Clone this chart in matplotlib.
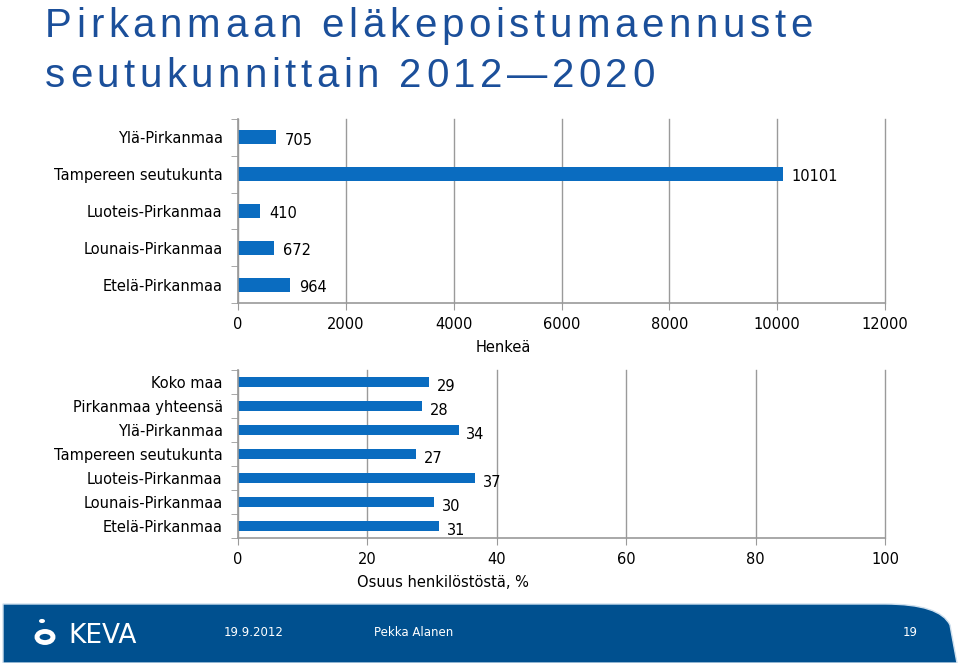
import matplotlib
matplotlib.use("Agg")
import matplotlib.pyplot as plt
from matplotlib.patches import PathPatch, Circle
from matplotlib.path import Path

plt.rcParams['font.family'] = ['DejaVu Sans']

# data
regions = ['Ylä-Pirkanmaa', 'Tampereen seutukunta', 'Luoteis-Pirkanmaa',
           'Lounais-Pirkanmaa', 'Etelä-Pirkanmaa']
persons = [705, 10101, 410, 672, 964]

regions2 = ['Koko maa', 'Pirkanmaa yhteensä', 'Ylä-Pirkanmaa', 'Tampereen seutukunta',
            'Luoteis-Pirkanmaa', 'Lounais-Pirkanmaa', 'Etelä-Pirkanmaa']
share = [29.5, 28.4, 34.1, 27.5, 36.7, 30.3, 31.1]
share_lbl = ['29', '28', '34', '27', '37', '30', '31']

title_lines = ['Pirkanmaan eläkepoistumaennuste', 'seutukunnittain 2012\u20142020']

BAR = '#0A6CC0'
GRID = '#9a9a9a'
TITLE = '#1B4F9A'
FOOT = '#00508F'

fig = plt.figure(figsize=(9.6, 6.63), dpi=100)
W, H = 960, 663


def style(ax, n):
    ax.set_ylim(n - 0.5, -0.5)
    for s in ['top', 'right']:
        ax.spines[s].set_visible(False)
    for s in ['left', 'bottom']:
        ax.spines[s].set_color(GRID)
        ax.spines[s].set_linewidth(1.2)
    ax.xaxis.grid(True, color=GRID, linewidth=1)
    ax.set_axisbelow(True)
    ax.set_yticks([i + 0.5 for i in range(-1, n)], minor=True)
    ax.tick_params(axis='y', which='major', length=0, labelsize=10.5, pad=11)
    ax.tick_params(axis='y', which='minor', length=5, color=GRID)
    ax.tick_params(axis='x', length=5, color=GRID, labelsize=10.5, pad=5)
    for gl in ax.get_xgridlines():
        gl.set_clip_on(False)


def spaced_text(x_px, y_px, s, spacing, **kw):
    # draws text one character at a time with extra letter spacing
    r = fig.canvas.get_renderer()
    x = x_px
    for ch in s:
        if ch == ' ':
            t = fig.text(0, 0, 'a a', **kw)
            t2 = fig.text(0, 0, 'aa', **kw)
            w = t.get_window_extent(r).width - t2.get_window_extent(r).width
            t.remove()
            t2.remove()
        else:
            t = fig.text(x / W, 1 - y_px / H, ch, va='baseline', ha='left', **kw)
            w = t.get_window_extent(r).width
        x += w + spacing


# top chart
ax1 = fig.add_axes([238 / W, 1 - 303 / H, 647 / W, 184 / H])
y = range(len(regions))
ax1.barh(y, persons, height=0.38, color=BAR)
ax1.set_yticks(list(y))
ax1.set_yticklabels(regions)
ax1.set_xlim(0, 12000)
ax1.set_xticks(range(0, 12001, 2000))
style(ax1, len(regions))
for i, v in enumerate(persons):
    ax1.annotate(str(v), (v, i), xytext=(6.5, -2), textcoords='offset points',
                 va='center', ha='left', fontsize=10.5)
ax1.set_xlabel('Henkeä', fontsize=10.5)
ax1.xaxis.set_label_coords((503 - 238) / 647, -0.2)

# bottom chart
ax2 = fig.add_axes([238 / W, 1 - 538 / H, 647 / W, 168 / H])
y2 = range(len(regions2))
ax2.barh(y2, share, height=0.42, color=BAR)
ax2.set_yticks(list(y2))
ax2.set_yticklabels(regions2)
ax2.set_xlim(0, 100)
ax2.set_xticks(range(0, 101, 20))
style(ax2, len(regions2))
for i, v in enumerate(share):
    ax2.annotate(share_lbl[i], (v, i), xytext=(5.5, -3), textcoords='offset points',
                 va='center', ha='left', fontsize=10.5)
ax2.set_xlabel('Osuus henkilöstöstä, %', fontsize=10.5)
ax2.xaxis.set_label_coords((443 - 238) / 647, -0.22)

# title
spaced_text(45, 37, title_lines[0], 4.6, color=TITLE, fontsize=29, family='Liberation Sans')
spaced_text(45, 87, title_lines[1], 4.5, color=TITLE, fontsize=29, family='Liberation Sans')

# footer band
x0, x1 = 3 / W, 957 / W
yt, yb = 1 - 604 / H, 0.0
verts = [(x0, yb), (x0, yt), (885 / W, yt), (940 / W, yt), (950 / W, 1 - 625 / H),
         (x1, yb), (x0, yb)]
codes = [Path.MOVETO, Path.LINETO, Path.LINETO, Path.CURVE3, Path.CURVE3, Path.LINETO,
         Path.CLOSEPOLY]
fig.patches.append(PathPatch(Path(verts, codes), facecolor=FOOT, edgecolor='#cfe0ee',
                             linewidth=1, transform=fig.transFigure, figure=fig))

# logo
fig.patches.append(Circle((45 / W, 1 - 637 / H), 8 / W, transform=fig.transFigure,
                          facecolor='none', edgecolor='white', linewidth=3.5, figure=fig))
fig.patches.append(Circle((42 / W, 1 - 621 / H), 3 / W, transform=fig.transFigure,
                          facecolor='white', edgecolor='none', figure=fig))
fig.text(68 / W, 1 - 636 / H, 'KEVA', color='white', fontsize=19,
         va='center', ha='left')
fig.text(224 / W, 1 - 633 / H, '19.9.2012', color='white', fontsize=8.5, va='center')
fig.text(374 / W, 1 - 633 / H, 'Pekka Alanen', color='white', fontsize=8.5, va='center')
fig.text(903 / W, 1 - 633 / H, '19', color='white', fontsize=8.5, va='center')

fig.savefig('out.png', dpi=100)
